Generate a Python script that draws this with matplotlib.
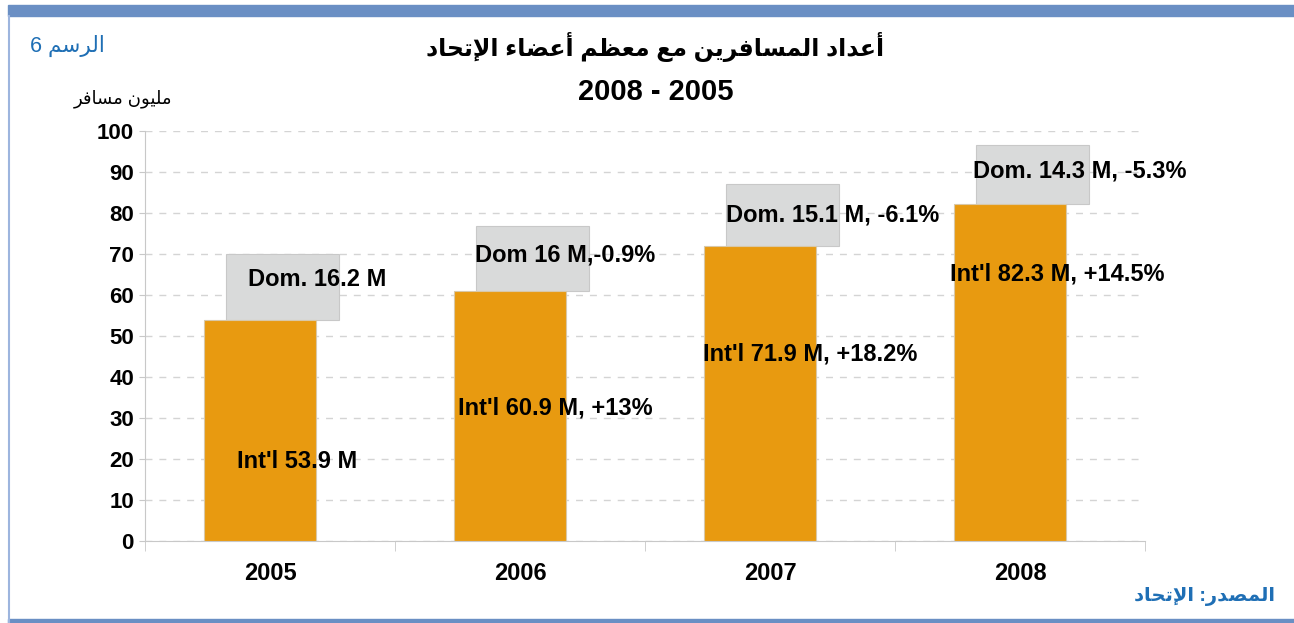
import matplotlib
matplotlib.use('Agg')
import matplotlib.pyplot as plt
from matplotlib.patches import Rectangle
from matplotlib.lines import Line2D

# data
years = ['2005', '2006', '2007', '2008']
intl = [53.9, 60.9, 71.9, 82.3]
dom = [16.2, 16.0, 15.1, 14.3]
intl_labels = ["Int'l 53.9 M", "Int'l 60.9 M, +13%", "Int'l 71.9 M, +18.2%", "Int'l 82.3 M, +14.5%"]
dom_labels = ['Dom. 16.2 M', 'Dom 16 M,-0.9%', 'Dom. 15.1 M, -6.1%', 'Dom. 14.3 M, -5.3%']

# Arabic presentation forms (isolated, final, initial, medial)
FORMS = {
    'ء': ('\ufe80',),
    'أ': ('\ufe83', '\ufe84'),
    'إ': ('\ufe87', '\ufe88'),
    'ا': ('\ufe8d', '\ufe8e'),
    'د': ('\ufea9', '\ufeaa'),
    'ر': ('\ufead', '\ufeae'),
    'و': ('\ufeed', '\ufeee'),
    'ت': ('\ufe95', '\ufe96', '\ufe97', '\ufe98'),
    'ح': ('\ufea1', '\ufea2', '\ufea3', '\ufea4'),
    'س': ('\ufeb1', '\ufeb2', '\ufeb3', '\ufeb4'),
    'ص': ('\ufeb9', '\ufeba', '\ufebb', '\ufebc'),
    'ض': ('\ufebd', '\ufebe', '\ufebf', '\ufec0'),
    'ظ': ('\ufec5', '\ufec6', '\ufec7', '\ufec8'),
    'ع': ('\ufec9', '\ufeca', '\ufecb', '\ufecc'),
    'ف': ('\ufed1', '\ufed2', '\ufed3', '\ufed4'),
    'ل': ('\ufedd', '\ufede', '\ufedf', '\ufee0'),
    'م': ('\ufee1', '\ufee2', '\ufee3', '\ufee4'),
    'ن': ('\ufee5', '\ufee6', '\ufee7', '\ufee8'),
    'ي': ('\ufef1', '\ufef2', '\ufef3', '\ufef4'),
}
LAM_ALEF = {'ا': ('\ufefb', '\ufefc'), 'أ': ('\ufef7', '\ufef8'), 'إ': ('\ufef9', '\ufefa')}


def ar(text):
    # shape the letters and put them in visual (left to right) order
    def dual(c):
        return c in FORMS and len(FORMS[c]) == 4

    def joins(c):
        return c in FORMS and len(FORMS[c]) >= 2

    out = []
    i = 0
    n = len(text)
    while i < n:
        c = text[i]
        if c not in FORMS:
            out.append(c)
            i += 1
            continue
        prev_con = i > 0 and dual(text[i - 1])
        if c == 'ل' and i + 1 < n and text[i + 1] in LAM_ALEF:
            out.append(LAM_ALEF[text[i + 1]][1 if prev_con else 0])
            i += 2
            continue
        next_con = dual(c) and i + 1 < n and joins(text[i + 1])
        f = FORMS[c]
        if len(f) == 1:
            out.append(f[0])
        elif len(f) == 2:
            out.append(f[1] if prev_con else f[0])
        else:
            out.append(f[{(False, False): 0, (True, False): 1,
                          (False, True): 2, (True, True): 3}[(prev_con, next_con)]])
        i += 1
    return ''.join(reversed(out))


FAM = ['Liberation Sans', 'DejaVu Sans']
plt.rcParams['font.family'] = FAM

fig = plt.figure(figsize=(12.94, 6.23), dpi=100)

# frame lines
fig.patches.append(Rectangle((8 / 1294, 1 - 16 / 623), 1, 11 / 623, transform=fig.transFigure,
                             color='#6a8fc4', zorder=0))
fig.patches.append(Rectangle((8 / 1294, 0), 1, 4 / 623, transform=fig.transFigure,
                             color='#6a8fc4', zorder=0))
fig.lines.append(Line2D([8.5 / 1294, 8.5 / 1294], [0, 1 - 16 / 623], transform=fig.transFigure,
                        color='#9db5de', lw=1.5))

ax = fig.add_axes([145 / 1294, 82 / 623, 1000 / 1294, 410 / 623])
x = list(range(len(years)))
w = 0.45
ax.bar([i - 0.04 for i in x], intl, width=w, color='#e89a10', edgecolor='#d8c8a8', lw=0.8, zorder=3)
ax.bar([i + 0.05 for i in x], dom, width=w, bottom=intl, color='#d9dada', edgecolor='#c8c8c8',
       lw=0.8, zorder=2)

# label positions
intl_pos = [(0.11, 19.5), (0.14, 32.4), (0.16, 45.6), (0.15, 65.1)]
dom_pos = [(0.19, 63.9), (0.18, 69.8), (0.25, 79.5), (0.24, 90.2)]
for i in x:
    ax.text(i + intl_pos[i][0], intl_pos[i][1], intl_labels[i], ha='center', va='center',
            fontsize=17, fontweight='bold', zorder=5)
    ax.text(i + dom_pos[i][0], dom_pos[i][1], dom_labels[i], ha='center', va='center',
            fontsize=17, fontweight='bold', zorder=5)

ax.set_xlim(-0.5, 3.5)
ax.set_ylim(0, 100)
ax.set_yticks(range(0, 101, 10))
ax.set_xticks(x)
ax.set_xticklabels(years)
ax.set_xticks([-0.5, 0.5, 1.5, 2.5, 3.5], minor=True)
ax.tick_params(axis='x', which='major', length=0, pad=15, labelsize=17)
ax.tick_params(axis='x', which='minor', length=7, color='#c8c8c8')
ax.tick_params(axis='y', length=4, color='#c8c8c8', labelsize=16, pad=4)
for lab in ax.get_xticklabels() + ax.get_yticklabels():
    lab.set_fontweight('bold')
ax.grid(axis='y', color='#d4d4d4', ls=(0, (5, 5)), lw=1, zorder=0)
ax.set_axisbelow(True)
for s in ['top', 'right']:
    ax.spines[s].set_visible(False)
for s in ['left', 'bottom']:
    ax.spines[s].set_color('#c8c8c8')

# titles and notes
fig.text(655 / 1294, 1 - 47 / 623, ar('أعداد المسافرين مع معظم أعضاء الإتحاد'), ha='center',
         va='center', fontsize=17, fontweight='bold', family=FAM)
fig.text(656 / 1294, 1 - 92 / 623, '2008 - 2005', ha='center', va='center', fontsize=21,
         fontweight='bold')
fig.text(67 / 1294, 1 - 46 / 623, ar('الرسم 6'), ha='center', va='center', fontsize=15.5,
         color='#1f6fb5', family=FAM)
fig.text(123 / 1294, 1 - 99 / 623, ar('مليون مسافر'), ha='center', va='center', fontsize=13,
         family=FAM)
fig.text(1205 / 1294, 1 - 597 / 623, ar('المصدر: الإتحاد'), ha='center', va='center',
         fontsize=14, fontweight='bold', color='#1f6fb5', family=FAM)

fig.savefig('out.png', dpi=100)
